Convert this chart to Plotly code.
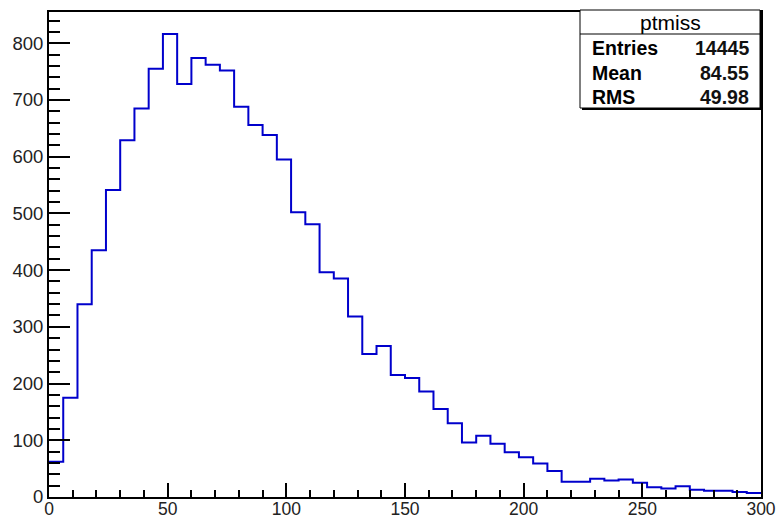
import plotly.graph_objects as go

# ---- data ----
bin_edges = [i * 6 for i in range(51)]  # 0..300, 50 bins
counts = [62, 175, 340, 435, 541, 629, 685, 755, 816, 728,
          774, 762, 752, 688, 656, 638, 595, 502, 481, 396,
          385, 318, 252, 266, 215, 210, 186, 155, 130, 96,
          108, 94, 79, 70, 59, 46, 27, 27, 32, 29,
          31, 25, 17, 15, 19, 13, 11, 11, 9, 7]
hist_name = "ptmiss"
stat_labels = ["Entries", "Mean", "RMS"]
stat_values = ["14445", "84.55", "49.98"]

W, H = 777, 520
L, R, T, B = 49, 16, 12, 23
FONT = "Liberation Sans, Arial, Helvetica, sans-serif"


def px(x):
    return (x - L) / (W - L - R)


def py(y):
    return (H - B - y) / (H - T - B)


fig = go.Figure()
fig.add_trace(go.Scatter(
    x=bin_edges,
    y=counts + [counts[-1]],
    mode="lines",
    line=dict(shape="hv", color="#0000cc", width=2),
    hoverinfo="skip",
    showlegend=False,
))

shapes = [
    # shadow
    dict(type="rect", xref="paper", yref="paper",
         x0=px(582), x1=px(762), y0=py(110), y1=py(12),
         fillcolor="black", line=dict(width=0), layer="above"),
    # box
    dict(type="rect", xref="paper", yref="paper",
         x0=px(580), x1=px(760), y0=py(108), y1=py(10),
         fillcolor="white", line=dict(color="black", width=1), layer="above"),
    dict(type="line", xref="paper", yref="paper",
         x0=px(580), x1=px(760), y0=py(34), y1=py(34),
         line=dict(color="black", width=1), layer="above"),
]

annotations = [
    dict(xref="paper", yref="paper", x=px(670), y=py(22), text=hist_name,
         showarrow=False, xanchor="center", yanchor="middle",
         font=dict(family=FONT, size=21, color="black")),
]
rows_y = [48, 73, 97]
for lab, val, yy in zip(stat_labels, stat_values, rows_y):
    annotations.append(dict(xref="paper", yref="paper", x=px(590), y=py(yy),
                            text="<b>" + lab + "</b>", showarrow=False,
                            xanchor="left", yanchor="middle",
                            font=dict(family=FONT, size=19.5, color="black")))
    annotations.append(dict(xref="paper", yref="paper", x=px(751), y=py(yy),
                            text="<b>" + val + "</b>", showarrow=False,
                            xanchor="right", yanchor="middle",
                            font=dict(family=FONT, size=19.5, color="#111")))

fig.update_layout(
    width=W, height=H,
    margin=dict(l=L, r=R, t=T, b=B),
    paper_bgcolor="white", plot_bgcolor="white",
    font=dict(family=FONT, size=18, color="black"),
    shapes=shapes,
    annotations=annotations,
    xaxis=dict(range=[0, 300], tick0=0, dtick=50, ticks="inside",
               ticklen=14, tickwidth=1.5, tickcolor="black",
               minor=dict(dtick=10, ticklen=7, tickwidth=1.5,
                          tickcolor="black", ticks="inside"),
               showgrid=False, zeroline=False, showline=True, mirror=True,
               linecolor="black", linewidth=2, automargin=False,
               ticklabelstandoff=-5,
               tickfont=dict(family=FONT, size=17.5, color="#222")),
    yaxis=dict(range=[0, 855], tick0=0, dtick=100, ticks="inside",
               ticklen=21, tickwidth=1.5, tickcolor="black",
               minor=dict(dtick=20, ticklen=11, tickwidth=1.5,
                          tickcolor="black", ticks="inside"),
               showgrid=False, zeroline=False, showline=True, mirror=True,
               linecolor="black", linewidth=2, automargin=False,
               tickfont=dict(family=FONT, size=18.5, color="#222")),
)

fig.write_html("out.html")
